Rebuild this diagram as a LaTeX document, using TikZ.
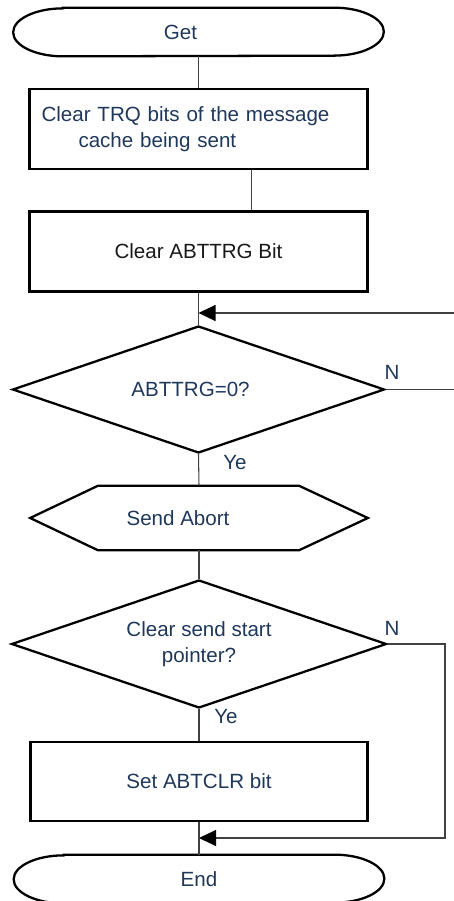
\documentclass[tikz,border=0pt]{standalone}
\usepackage{fontspec}
\setmainfont{Liberation Sans}
\usetikzlibrary{arrows.meta,shapes.geometric}
\definecolor{txtblue}{RGB}{31,56,90}
\definecolor{linegray}{RGB}{64,64,64}

\begin{document}
\begin{tikzpicture}[
    >={Triangle[length=3.4mm,width=3.2mm,color=black]},
    font=\fontsize{11.7}{14.8}\selectfont,
    terminal/.style={minimum width=7.4cm,minimum height=.96cm,inner sep=0pt},
    prep/.style={minimum width=6.74cm,minimum height=1.28cm,inner sep=0pt},
    outline/.style={draw=black,line width=1.3pt},
    block/.style={draw=black,line width=1.3pt,minimum width=6.76cm,
        minimum height=1.6cm,text=txtblue},
    test/.style={diamond,draw=black,line width=1.3pt,aspect=2.93,
        minimum width=7.44cm,minimum height=2.54cm,inner sep=0pt,
        align=center,text=txtblue},
    flow/.style={draw=linegray,line width=.6pt},
    back/.style={->,draw=linegray,line width=.6pt},
    tag/.style={text=txtblue,inner sep=0pt}]
\useasboundingbox (0,0) rectangle (9.06,-18.02);
\node[terminal,label={[tag,xshift=-.36cm]center:Get}] (get) at (3.97,-.64) {};
\node[block,text width=6.28cm,inner xsep=.24cm,align=left] (trq) at (3.97,-2.58)
    {Clear TRQ bits of the message\\\hspace*{.74cm}cache being sent};
\node[block,text=black!90] (abt) at (3.97,-5.03) {Clear ABTTRG Bit};
\coordinate (merge1) at (3.97,-6.26);
\node[test] (chk) at (3.97,-7.79) {\hspace*{-.32cm}ABTTRG=0?};
\node[prep,label={[tag,xshift=-.42cm]center:Send Abort}] (snd) at (3.98,-10.36) {};
\node[test,minimum width=7.5cm,minimum height=2.56cm] (ptr) at (3.98,-12.88)
    {Clear send start\\pointer?};
\node[block,minimum width=6.74cm,minimum height=1.58cm] (clr) at (3.98,-15.63) {Set ABTCLR bit};
\coordinate (merge2) at (3.98,-16.76);
\node[terminal,label={[tag]center:End}] (end) at (3.98,-17.58) {};
\coordinate (loop1) at (9.12,-7.79);
\coordinate (loop2) at (8.9,-12.88);
% labels
\node[tag] (no1) at (7.84,-7.45) {N};
\node[tag] (ye1) at (4.7,-9.26) {Ye};
\node[tag] (no2) at (7.84,-12.57) {N};
\node[tag] (ye2) at (4.52,-14.34) {Ye};
% outlines
\draw[outline] ([xshift=1cm]get.north west) -- ([xshift=-1cm]get.north east)
    arc[start angle=90,end angle=-90,x radius=1cm,y radius=.48cm]
    -- ([xshift=1cm]get.south west)
    arc[start angle=270,end angle=90,x radius=1cm,y radius=.48cm] -- cycle;
\draw[outline] (snd.west) -- ([xshift=1.36cm]snd.north west) -- ([xshift=-1.38cm]snd.north east)
    -- (snd.east) -- ([xshift=-1.38cm]snd.south east) -- ([xshift=1.36cm]snd.south west) -- cycle;
\draw[outline] ([xshift=1cm]end.north west) -- ([xshift=-1cm]end.north east)
    arc[start angle=90,end angle=-90,x radius=1cm,y radius=.48cm]
    -- ([xshift=1cm]end.south west)
    arc[start angle=270,end angle=90,x radius=1cm,y radius=.48cm] -- cycle;
% connectors
\draw[flow] (get.south)--(trq.north);
\draw[flow] ([xshift=1.06cm]trq.south)--([xshift=1.06cm]abt.north);
\draw[flow] (abt.south)--(chk.north);
\draw[back] (chk.east)--(loop1)|-(merge1);
\draw[flow] (chk.south)--(snd.north);
\draw[flow] (snd.south)--(ptr.north);
\draw[flow] (ptr.south)--(clr.north);
\draw[back] (ptr.east)--(loop2)|-(merge2);
\draw[flow] (clr.south)--(end.north);
\end{tikzpicture}
\end{document}
